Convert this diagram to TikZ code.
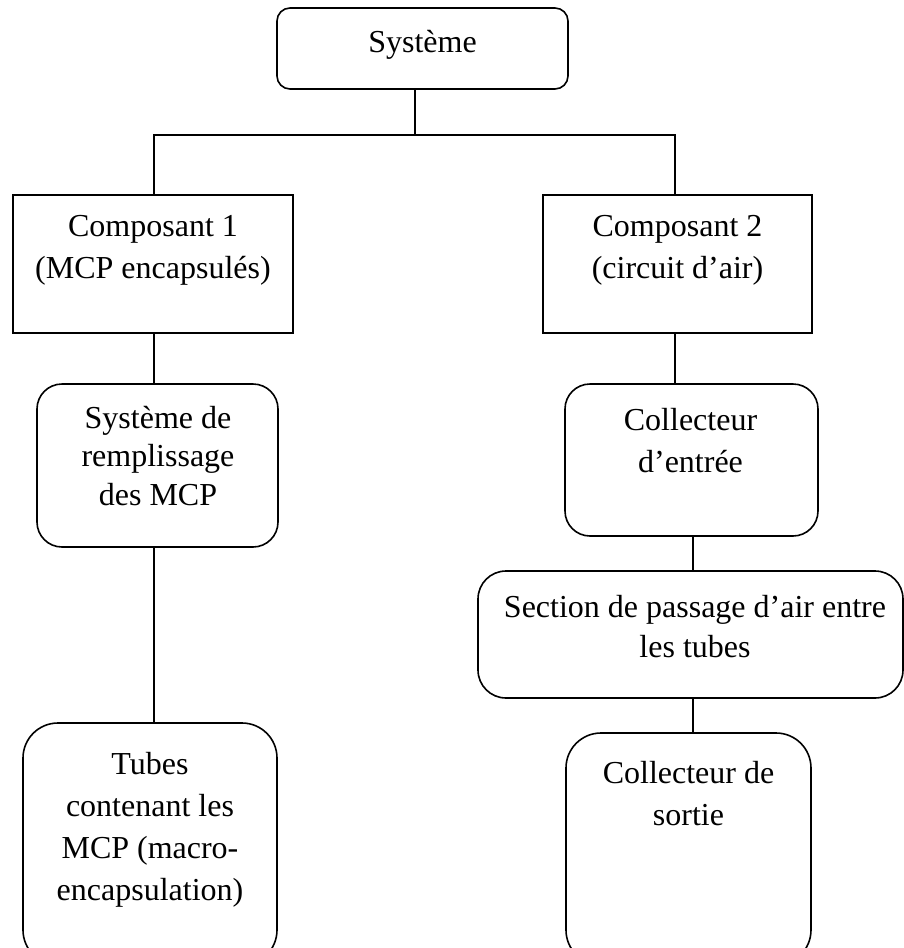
\documentclass[tikz,border=0pt]{standalone}
\usepackage{fontspec}
\setmainfont{Liberation Serif}
\begin{document}
\begin{tikzpicture}[x=1pt,y=-1pt,
  box/.style={draw, line width=1.6pt, inner sep=0pt, outer sep=0pt},
  rbox/.style={box, rounded corners=#1},
  lbl/.style={align=center, inner sep=0pt, anchor=base, font=\fontsize{32}{42}\selectfont},
  conn/.style={line width=1.6pt}]
\useasboundingbox (0,0) rectangle (904,948);
\fill[white] (0,0) rectangle (904,948);
\clip (0,0) rectangle (904,948);
% boxes
\node[rbox=13pt, minimum width=291pt, minimum height=81pt] (sys) at (422.5,48.5) {};
\node[box, minimum width=280pt, minimum height=138pt] (c1) at (153,264) {};
\node[box, minimum width=269pt, minimum height=138pt] (c2) at (677.5,264) {};
\node[rbox=25pt, minimum width=241pt, minimum height=163pt] (rem) at (157.5,465.5) {};
\node[rbox=25pt, minimum width=253pt, minimum height=152pt] (col1) at (691.5,460) {};
\node[rbox=28pt, minimum width=425pt, minimum height=127pt] (sec) at (690.5,634.5) {};
\node[rbox=35pt, minimum width=254pt, minimum height=242pt] (tub) at (150,844) {};
\node[rbox=35pt, minimum width=245pt, minimum height=232pt] (col2) at (688.5,849) {};
% texts (anchor base = baseline of last line)
\node[lbl] (tsys) at (422.5,52) {Système};
\node[lbl] (tc1) at (153,278) {Composant 1\\(MCP encapsulés)};
\node[lbl] (tc2) at (677.5,278) {Composant 2\\(circuit d’air)};
\node[lbl, font=\fontsize{32}{38.5}\selectfont] (trem) at (158,505) {Système de\\remplissage\\des MCP};
\node[lbl] (tcol1) at (690.5,472) {Collecteur\\d’entrée};
\node[lbl, font=\fontsize{32}{40}\selectfont] (tsec) at (695,657) {Section de passage d’air entre\\les tubes};
\node[lbl] (ttub) at (150,900) {Tubes\\contenant les\\MCP (macro-\\encapsulation)};
\node[lbl] (tcol2) at (688.5,825) {Collecteur de\\sortie};
% connectors
\coordinate (jn) at (415,135);
\coordinate (hl) at (154,135);
\coordinate (hr) at (675,135);
\coordinate (vr) at (693,0);
\draw[conn] (sys.south -| jn) -- (jn);
\draw[conn] (c1.north -| hl) -- (hl) -- (hr) -- (c2.north -| hr);
\draw[conn] (c1.south -| hl) -- (rem.north -| hl);
\draw[conn] (rem.south -| hl) -- (tub.north -| hl);
\draw[conn] (c2.south -| hr) -- (col1.north -| hr);
\draw[conn] (col1.south -| vr) -- (sec.north -| vr);
\draw[conn] (sec.south -| vr) -- (col2.north -| vr);
\end{tikzpicture}
\end{document}
